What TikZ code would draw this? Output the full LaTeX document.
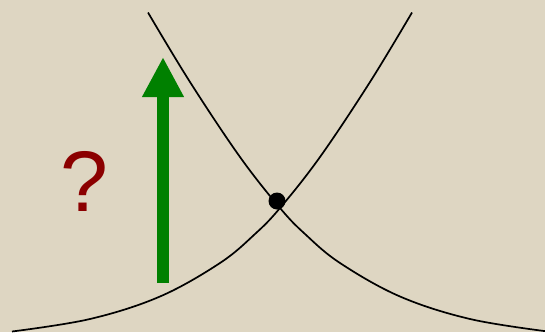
\documentclass[tikz,border=0pt]{standalone}
\usepackage{fontspec}
\setmainfont{Liberation Sans}
\usetikzlibrary{arrows.meta}
\definecolor{bgbeige}{RGB}{222,214,194}
\definecolor{arrowgreen}{RGB}{0,128,0}
\definecolor{qred}{RGB}{139,0,0}
\tikzset{
  curve/.style={line width=1.7pt, black},
  bigarrow/.style={arrowgreen, line width=12pt, -{Triangle[width=39pt,length=40pt]}},
  crossdot/.style={circle, fill=black, inner sep=0pt, minimum size=17pt},
  qmark/.style={text=qred, inner sep=0pt, anchor=base, font=\fontsize{86}{86}\selectfont}
}
\begin{document}
\begin{tikzpicture}[x=1pt,y=-1pt]
  \fill[bgbeige] (0,0) rectangle (545,332);
  \useasboundingbox (0,0) rectangle (545,332);
  % rising curve
  \draw[curve] plot[smooth, tension=0.6] coordinates {
    (12,331.5) (90,319) (160,296.5) (220,263) (255,234) (280,208)
    (320,157) (370,82) (412,12.5)};
  % falling curve
  \draw[curve] plot[smooth, tension=0.6] coordinates {
    (548,331.5) (470,319) (400,296.5) (340,263) (305,234) (280,208)
    (240,157) (190,82) (148,12.5)};
  \node[crossdot] (dot) at (277,201) {};
  \coordinate (arrowbase) at (163,283);
  \coordinate (arrowtip) at (163,57);
  \draw[bigarrow] (arrowbase) -- (arrowtip);
  \node[qmark] (q) at (84,211) {?};
\end{tikzpicture}
\end{document}
